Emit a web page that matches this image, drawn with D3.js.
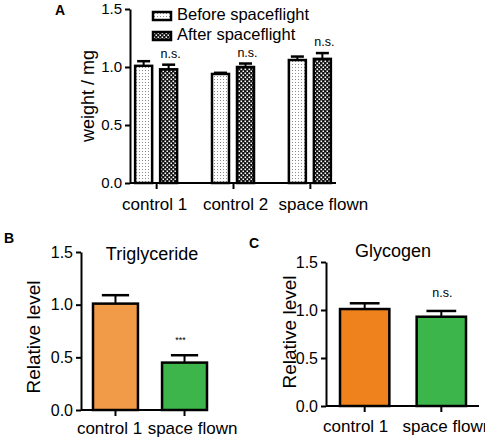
<!DOCTYPE html>
<html>
<head>
<meta charset="utf-8">
<script src="https://cdn.jsdelivr.net/npm/d3@7"></script>
<style>
  body { margin: 0; background: #fff; }
  svg, svg text { font-family: "Liberation Sans", Arial, sans-serif; }
  .axis path, .axis line { stroke: #000; stroke-width: 2px; }
  .axis text { fill: #000; }
</style>
</head>
<body>
<div id="chart"></div>
<script>
// ---- data ----
var groupsA = ["control 1", "control 2", "space flown"];
var seriesA = ["Before spaceflight", "After spaceflight"];
var beforeMean = [1.01, 0.94, 1.06];
var beforeErr = [0.04, 0.01, 0.03];
var afterMean = [0.98, 1.00, 1.07];
var afterErr = [0.04, 0.03, 0.05];
var sigA = ["n.s.", "n.s.", "n.s."];

var groupsBC = ["control 1", "space flown"];
var trigMean = [1.01, 0.45];
var trigErr = [0.08, 0.07];
var trigSig = ["", "***"];
var glyMean = [1.01, 0.93];
var glyErr = [0.06, 0.06];
var glySig = ["", "n.s."];

var yTicks = [0, 0.5, 1.0, 1.5];

var svg = d3.select("#chart").append("svg")
    .attr("width", 485)
    .attr("height", 439);

// patterns for panel A
var defs = svg.append("defs");
var dots = defs.append("pattern")
    .attr("id", "dots")
    .attr("patternUnits", "userSpaceOnUse")
    .attr("width", 3).attr("height", 3);
dots.append("rect").attr("width", 3).attr("height", 3).attr("fill", "#fff");
dots.append("rect").attr("x", 1).attr("y", 1).attr("width", 1).attr("height", 1).attr("fill", "#8a8a8a");

var check = defs.append("pattern")
    .attr("id", "check")
    .attr("patternUnits", "userSpaceOnUse")
    .attr("width", 4).attr("height", 4);
check.append("rect").attr("width", 4).attr("height", 4).attr("fill", "#111");
check.append("rect").attr("x", 0.5).attr("y", 0.5).attr("width", 1.6).attr("height", 1.6).attr("fill", "#fff");
check.append("rect").attr("x", 2.5).attr("y", 2.5).attr("width", 1.6).attr("height", 1.6).attr("fill", "#fff");

function yAxis(g, y, x0, fs) {
    var ax = g.append("g")
        .attr("class", "axis")
        .attr("transform", "translate(" + x0 + ",0)")
        .call(d3.axisLeft(y).tickValues(yTicks).tickFormat(d3.format(".1f")).tickSize(5).tickSizeOuter(0).tickPadding(3));
    ax.attr("font-family", null);
    ax.selectAll("text").style("font-size", fs + "px");
    return ax;
}

// shifts = horizontal nudges of the tick labels, like in the original figure
function xAxis(g, x, y0, a, b, fs, dy, shifts) {
    var ax = g.append("g")
        .attr("class", "axis")
        .attr("transform", "translate(0," + y0 + ")")
        .call(d3.axisBottom(x).tickSize(6).tickSizeOuter(0).tickPadding(dy));
    ax.attr("font-family", null);
    ax.select(".domain").attr("d", "M" + a + ",0H" + b);
    ax.selectAll("text")
        .style("font-size", fs + "px")
        .attr("dx", function (d, i) { return shifts[i]; });
    return ax;
}

function errBar(g, cx, yTop, yMid, capW) {
    g.append("line").attr("x1", cx).attr("x2", cx).attr("y1", yMid).attr("y2", yTop)
        .attr("stroke", "#000").attr("stroke-width", 2);
    g.append("line").attr("x1", cx - capW / 2).attr("x2", cx + capW / 2).attr("y1", yTop).attr("y2", yTop)
        .attr("stroke", "#000").attr("stroke-width", 2.5);
}

// ---- Panel A ----
var gA = svg.append("g");
var yA = d3.scaleLinear().domain([0, 1.5]).range([183, 9]);
var xA = d3.scalePoint().domain(groupsA).range([130, 336]).padding(0.34);
var xSub = d3.scaleBand().domain(seriesA).range([-22, 22]).paddingInner(0.24);
var fills = {"Before spaceflight": "url(#dots)", "After spaceflight": "url(#check)"};

var dataA = groupsA.map(function (g, i) {
    return [
        {group: g, key: seriesA[0], mean: beforeMean[i], err: beforeErr[i]},
        {group: g, key: seriesA[1], mean: afterMean[i], err: afterErr[i]}
    ];
});

dataA.forEach(function (pair, i) {
    pair.forEach(function (d) {
        var bx = xA(d.group) + xSub(d.key);
        var bw = xSub.bandwidth();
        errBar(gA, bx + bw / 2, yA(d.mean + d.err), yA(d.mean), 13);
        gA.append("rect")
            .attr("x", bx + 1).attr("y", yA(d.mean))
            .attr("width", bw - 2).attr("height", yA(0) - yA(d.mean))
            .attr("fill", fills[d.key])
            .attr("stroke", "#000").attr("stroke-width", 2.5);
    });
    var a = pair[1];
    gA.append("text")
        .attr("x", xA(a.group) + xSub(a.key) + xSub.bandwidth() / 2 + 2)
        .attr("y", yA(a.mean + a.err) - 7)
        .attr("text-anchor", "middle")
        .attr("fill", "#000")
        .style("font-size", "12.5px")
        .text(sigA[i]);
});

yAxis(gA, yA, 130, 15);
xAxis(gA, xA, 183, 130, 336, 17, 9, [-2, 2, 13]);

gA.append("text")
    .attr("transform", "translate(94,96) rotate(-90)")
    .attr("text-anchor", "middle")
    .style("font-size", "18px")
    .text("weight / mg");

gA.append("text").attr("x", 55).attr("y", 15)
    .style("font-size", "14px").style("font-weight", "bold").text("A");

// legend
var leg = gA.selectAll(".leg").data(seriesA).enter().append("g")
    .attr("transform", function (d, i) { return "translate(153," + (12 + i * 20) + ")"; });
leg.append("rect").attr("width", 18).attr("height", 8)
    .attr("fill", function (d) { return fills[d]; })
    .attr("stroke", "#000").attr("stroke-width", 2.5);
leg.append("text").attr("x", 24).attr("y", 8)
    .style("font-size", "16.5px")
    .text(function (d) { return d; });

// ---- Panels B and C ----
function smallPanel(opt) {
    var g = svg.append("g");
    var y = d3.scaleLinear().domain([0, 1.5]).range([opt.y0, opt.y1]);
    var x = d3.scaleBand().domain(groupsBC).range([opt.bx0, opt.bx1]).paddingInner(opt.pad);
    var bw = x.bandwidth();
    groupsBC.forEach(function (grp, i) {
        var cx = x(grp) + bw / 2;
        errBar(g, cx, y(opt.mean[i] + opt.err[i]), y(opt.mean[i]), bw * 0.58);
        g.append("rect")
            .attr("x", x(grp) + 1).attr("y", y(opt.mean[i]))
            .attr("width", bw - 2).attr("height", opt.y0 - y(opt.mean[i]))
            .attr("fill", opt.colors[i])
            .attr("stroke", "#000").attr("stroke-width", 2.5);
        if (opt.sig[i]) {
            g.append("text")
                .attr("x", cx + opt.sigDx)
                .attr("y", y(opt.mean[i] + opt.err[i]) - opt.sigDy)
                .attr("text-anchor", "middle")
                .attr("fill", "#000")
                .style("font-size", opt.sigFs + "px")
                .text(opt.sig[i]);
        }
    });
    yAxis(g, y, opt.ax, 16);
    xAxis(g, x, opt.y0, opt.ax, opt.axEnd, 17, opt.xPad, opt.shifts);
    g.append("text")
        .attr("transform", "translate(" + opt.labX + "," + opt.labY + ") rotate(-90)")
        .attr("text-anchor", "middle")
        .style("font-size", "19px")
        .text("Relative level");
    g.append("text")
        .attr("x", opt.titleX).attr("y", opt.titleY)
        .attr("text-anchor", "middle")
        .style("font-size", "18px")
        .text(opt.title);
    g.append("text").attr("x", opt.letterX).attr("y", opt.letterY)
        .style("font-size", "14px").style("font-weight", "bold").text(opt.letter);
}

smallPanel({
    y0: 410, y1: 252, bx0: 92, bx1: 208, pad: 0.32, ax: 81, axEnd: 208, xPad: 6,
    mean: trigMean, err: trigErr, sig: trigSig, sigDx: -4, sigDy: 12, sigFs: 9,
    colors: ["#f19a48", "#3db54a"], shifts: [-6, 8],
    labX: 40, labY: 337, title: "Triglyceride", titleX: 152, titleY: 260,
    letter: "B", letterX: 4, letterY: 243
});

smallPanel({
    y0: 406, y1: 262, bx0: 339, bx1: 467, pad: 0.33, ax: 326, axEnd: 479, xPad: 8,
    mean: glyMean, err: glyErr, sig: glySig, sigDx: 1, sigDy: 14, sigFs: 12.5,
    colors: ["#f0821e", "#3cb54a"], shifts: [-9, 6],
    labX: 296, labY: 332, title: "Glycogen", titleX: 393, titleY: 257,
    letter: "C", letterX: 249, letterY: 248
});
</script>
</body>
</html>
